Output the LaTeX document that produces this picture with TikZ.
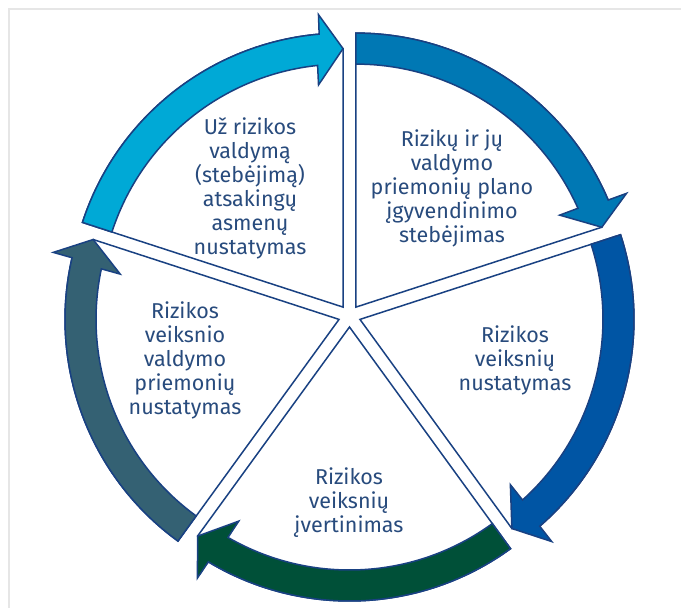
\documentclass[tikz,border=0pt]{standalone}
\usepackage{fontspec}
\setmainfont{Fira Sans}
\usepackage{tikz}

\definecolor{lineblue}{RGB}{25,65,130}
\definecolor{textblue}{RGB}{40,75,125}
\definecolor{framegray}{RGB}{230,230,230}
\definecolor{bandA}{RGB}{0,169,214}
\definecolor{bandB}{RGB}{0,120,180}
\definecolor{bandC}{RGB}{0,85,164}
\definecolor{bandD}{RGB}{0,80,56}
\definecolor{bandE}{RGB}{52,97,115}

\begin{document}
\begin{tikzpicture}[x=1pt, y=1pt,
  wedge/.style={draw=lineblue, fill=white, line width=1.5pt, line join=miter},
  band/.style={draw=lineblue, line width=1.5pt, line join=miter},
  lbl/.style={text=textblue, align=center, inner sep=0pt,
    font=\fontsize{21.5}{24}\selectfont}]
\useasboundingbox (-349.5,-292) rectangle (331.5,316);
\draw[framegray, line width=2pt] (-340.5,-292) -- (-340.5,307) -- (331.5,307);

\filldraw[wedge, shift={(126:11)}] (0,0) -- (162:274) arc[start angle=162, end angle=95, radius=274] -- (90:258.5) -- cycle;
\filldraw[band, fill=bandA, shift={(126:11)}] (162:243) -- (162:274) arc[start angle=162, end angle=95, radius=274] -- (94.8:293.5) -- (90:258.5) -- (96.3:223.5) -- (96:243) arc[start angle=96, end angle=162, radius=243] -- cycle;

\filldraw[wedge, shift={(54:11)}] (0,0) -- (90:274) arc[start angle=90, end angle=23, radius=274] -- (18:258.5) -- cycle;
\filldraw[band, fill=bandB, shift={(54:11)}] (90:243) -- (90:274) arc[start angle=90, end angle=23, radius=274] -- (22.8:293.5) -- (18:258.5) -- (24.3:223.5) -- (24:243) arc[start angle=24, end angle=90, radius=243] -- cycle;

\filldraw[wedge, shift={(-18:11)}] (0,0) -- (18:274) arc[start angle=18, end angle=-49, radius=274] -- (-54:258.5) -- cycle;
\filldraw[band, fill=bandC, shift={(-18:11)}] (18:243) -- (18:274) arc[start angle=18, end angle=-49, radius=274] -- (-49.2:293.5) -- (-54:258.5) -- (-47.7:223.5) -- (-48:243) arc[start angle=-48, end angle=18, radius=243] -- cycle;

\filldraw[wedge, shift={(-90:11)}] (0,0) -- (-54:274) arc[start angle=-54, end angle=-121, radius=274] -- (-126:258.5) -- cycle;
\filldraw[band, fill=bandD, shift={(-90:11)}] (-54:243) -- (-54:274) arc[start angle=-54, end angle=-121, radius=274] -- (-121.2:293.5) -- (-126:258.5) -- (-119.7:223.5) -- (-120:243) arc[start angle=-120, end angle=-54, radius=243] -- cycle;

\filldraw[wedge, shift={(198:11)}] (0,0) -- (234:274) arc[start angle=234, end angle=167, radius=274] -- (162:258.5) -- cycle;
\filldraw[band, fill=bandE, shift={(198:11)}] (234:243) -- (234:274) arc[start angle=234, end angle=167, radius=274] -- (166.8:293.5) -- (162:258.5) -- (168.3:223.5) -- (168:243) arc[start angle=168, end angle=234, radius=243] -- cycle;

\node[lbl] (asmenys) at (-99.5,128) {Už rizikos\\valdymą\\(stebėjimą)\\atsakingų\\asmenų\\nustatymas};
\node[lbl] (stebejimas) at (102.5,128) {Rizikų ir jų\\valdymo\\priemonių plano\\įgyvendinimo\\stebėjimas};
\node[lbl] (nustatymas) at (165.5,-44) {Rizikos\\veiksnių\\nustatymas};
\node[lbl] (ivertinimas) at (-0.5,-187) {Rizikos\\veiksnių\\įvertinimas};
\node[lbl] (priemones) at (-164.5,-44) {Rizikos\\veiksnio\\valdymo\\priemonių\\nustatymas};
\end{tikzpicture}
\end{document}
